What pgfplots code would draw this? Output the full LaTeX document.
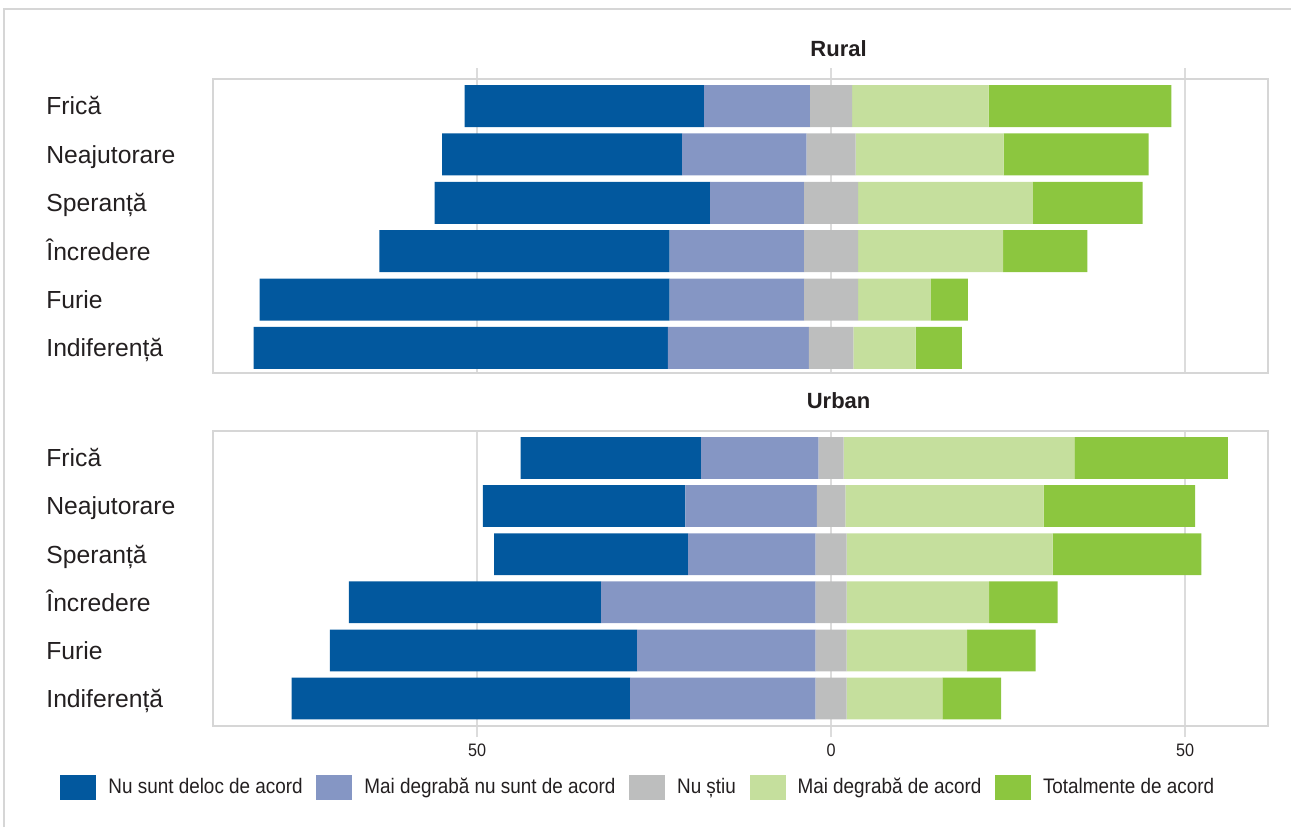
\documentclass[border=0pt]{standalone}
\usepackage{fontspec}
\setmainfont{Liberation Sans}
\newfontfamily\condfont[FakeStretch=0.9]{Liberation Sans}
\usepackage{pgfplots}
\usepackage{pgfplotstable}
\pgfplotsset{compat=1.18}
\definecolor{cD}{HTML}{02589E}
\definecolor{cM}{HTML}{8596C4}
\definecolor{cN}{HTML}{BDBEBE}
\definecolor{cA}{HTML}{C5DF9D}
\definecolor{cT}{HTML}{8CC63F}
\definecolor{cGrid}{HTML}{DCDCDC}
\definecolor{cBorder}{HTML}{D6D6D6}
\definecolor{cText}{HTML}{231F20}

% y: row (1 = top), d: Nu sunt deloc de acord, m: Mai degrabă nu sunt de acord,
% n: Nu știu, a: Mai degrabă de acord, t: Totalmente de acord
\pgfplotstableread{
y d m n a t
1 33.8 15.0 5.9 19.3 25.8
2 33.9 17.6 6.9 20.9 20.5
3 38.9 13.3 7.6 24.7 15.5
4 41.0 19.0 7.6 20.5 11.9
5 57.9 19.0 7.6 10.3 5.2
6 58.5 19.9 6.3 8.8 6.5
}\rural

\pgfplotstableread{
y d m n a t
1 25.5 16.6 3.5 32.6 21.7
2 28.6 18.6 4.0 28.0 21.4
3 27.4 18.0 4.4 29.1 21.0
4 35.6 30.3 4.4 20.1 9.7
5 43.4 25.2 4.4 17.0 9.7
6 47.8 26.2 4.4 13.5 8.3
}\urban

\pgfplotsset{
  diverg/.style={
    scale only axis,
    width=527.5pt,
    xbar stacked,
    stack negative=separate,
    bar width=0.868,
    xmin=-87.3, xmax=61.7,
    y dir=reverse,
    axis line style={draw=cBorder, line width=0.9pt},
    xtick={-50,0,50},
    xticklabels={50,0,50},
    xmajorgrids,
    grid style={draw=cGrid, line width=0.8pt},
    tick align=outside,
    major tick length=5.5pt,
    x tick style={draw=cGrid, line width=0.8pt},
    ytick={1,2,3,4,5,6},
    yticklabels={Frică,Neajutorare,Speranță,Încredere,Furie,Indiferență},
    y tick style={draw=none},
    ytick pos=left,
    yticklabel style={anchor=base west, xshift=-78pt, yshift=-4.4pt, inner sep=0pt,
      font=\fontsize{12.35}{14}\selectfont, text=cText},
    xticklabel style={font=\condfont\fontsize{9}{10}\selectfont, text=cText},
    /pgf/number format/assume math mode=true,
    title style={anchor=base, yshift=5.5pt, at={(0.593,1)},
      font=\bfseries\fontsize{11}{13}\selectfont, text=cText},
  },
}

\newcommand{\divbars}[1]{%
  \addplot[fill=cN, draw=none, forget plot] table[x expr=-\thisrow{n}/2, y=y] {#1};
  \addplot[fill=cM, draw=none, forget plot] table[x expr=-\thisrow{m}, y=y] {#1};
  \addplot[fill=cD, draw=none, forget plot] table[x expr=-\thisrow{d}, y=y] {#1};
  \addplot[fill=cN, draw=none, forget plot] table[x expr=\thisrow{n}/2, y=y] {#1};
  \addplot[fill=cA, draw=none, forget plot] table[x=a, y=y] {#1};
  \addplot[fill=cT, draw=none, forget plot] table[x=t, y=y] {#1};
}

\begin{document}
\begin{tikzpicture}
\path[use as bounding box] (0,0) rectangle (645.5pt,-413.5pt);
\draw[draw=cBorder, line width=1pt] (2pt,-413.5pt) -- (2pt,-4.25pt) -- (645.5pt,-4.25pt);

\begin{axis}[diverg,
  at={(106.5pt,-39.5pt)}, anchor=north west,
  height=147pt,
  ymin=0.442, ymax=6.517,
  xtick pos=right,
  xticklabels={},
  title={Rural},
]
\divbars{\rural}
\end{axis}

\begin{axis}[diverg,
  at={(106.5pt,-215.5pt)}, anchor=north west,
  height=147.5pt,
  ymin=0.439, ymax=6.572,
  xtick pos=left,
  title={Urban},
  legend columns=5,
  legend cell align=left,
  legend image code/.code={\fill[#1] (0pt,-6.25pt) rectangle (18pt,6.25pt);},
  legend style={at={(-0.145,-0.207)}, anchor=west, draw=none, fill=none,
    inner sep=0pt, text=cText,
    font=\condfont\fontsize{10.5}{12}\selectfont,
    /tikz/every odd column/.append style={column sep=4pt},
    /tikz/every even column/.append style={column sep=4.8pt}},
]
\addlegendimage{fill=cD, draw=none}
\addlegendentry{Nu sunt deloc de acord}
\addlegendimage{fill=cM, draw=none}
\addlegendentry{Mai degrabă nu sunt de acord}
\addlegendimage{fill=cN, draw=none}
\addlegendentry{Nu știu}
\addlegendimage{fill=cA, draw=none}
\addlegendentry{Mai degrabă de acord}
\addlegendimage{fill=cT, draw=none}
\addlegendentry{Totalmente de acord}
\divbars{\urban}
\end{axis}
\end{tikzpicture}
\end{document}
